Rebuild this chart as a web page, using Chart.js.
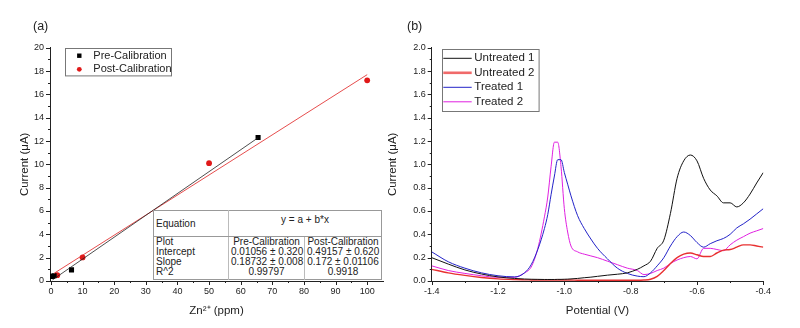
<!DOCTYPE html>
<html>
<head>
<meta charset="utf-8">
<script src="https://cdn.jsdelivr.net/npm/chart.js@4.4.1/dist/chart.umd.min.js"></script>
<style>
body { margin: 0; background: #fff; width: 800px; height: 328px; position: relative; overflow: hidden; font-family: "Liberation Sans", Arial, sans-serif; color: #222; }
canvas { position: absolute; top: 0; }
#chartA { left: 0; }
#chartB { left: 380px; }
.tag { position: absolute; top: 19px; font-size: 12.5px; }
#fit { position: absolute; left: 153px; top: 210px; width: 228px; border-collapse: collapse; font-size: 10px; line-height: 10px; background: #fff; border: 1px solid #999; table-layout: fixed; }
#fit td { padding: 0 2px; white-space: nowrap; text-align: center; }
#fit td:first-child { text-align: left; border-right: 1px solid #bbb; }
#fit td.mid { border-right: 1px solid #bbb; }
#fit tr.eq td { height: 21px; border-bottom: 1px solid #999; }
#fit tr.last td { height: 12px; vertical-align: top; }
</style>
</head>
<body>
<canvas id="chartA" width="400" height="328"></canvas>
<canvas id="chartB" width="420" height="328"></canvas>
<div class="tag" style="left:33px">(a)</div>
<div class="tag" style="left:407px">(b)</div>
<table id="fit">
  <colgroup><col style="width:75px"><col style="width:76px"><col style="width:77px"></colgroup>
  <tr class="eq"><td>Equation</td><td colspan="2" style="vertical-align:top;padding-top:4px">y = a + b*x</td></tr>
  <tr><td>Plot</td><td class="mid">Pre-Calibration</td><td>Post-Calibration</td></tr>
  <tr><td>Intercept</td><td class="mid">0.01056 ± 0.320</td><td>0.49157 ± 0.620</td></tr>
  <tr><td>Slope</td><td class="mid">0.18732 ± 0.008</td><td>0.172 ± 0.01106</td></tr>
  <tr class="last"><td>R^2</td><td class="mid">0.99797</td><td>0.9918</td></tr>
</table>
<script>
// (a) calibration data
const preZn = [0.5, 1, 6.5, 65.5];
const preCurrent = [0.4, 0.45, 0.95, 12.3];
const postZn = [2, 10, 50, 100];
const postCurrent = [0.5, 2.02, 10.1, 17.2];
// fitted lines, end points
const preFitZn = [0.5, 65.5];
const preFitCurrent = [0.1, 12.28];
const postFitZn = [1, 100];
const postFitCurrent = [0.66, 17.69];

// (b) voltammograms
const potential = [-1.40, -1.35, -1.30, -1.25, -1.20, -1.15, -1.12, -1.10, -1.08, -1.06, -1.05, -1.04, -1.03, -1.02, -1.01,
  -1.00, -0.99, -0.98, -0.96, -0.94, -0.92, -0.90, -0.87, -0.84, -0.81, -0.78, -0.76, -0.74, -0.72, -0.70,
  -0.68, -0.66, -0.64, -0.62, -0.60, -0.58, -0.56, -0.54, -0.52, -0.50, -0.48, -0.46, -0.44, -0.42, -0.40];
const untreated1 = [0.20, 0.145, 0.095, 0.06, 0.035, 0.022, 0.017, 0.015, 0.014, 0.013, 0.013, 0.013, 0.013, 0.014, 0.014,
  0.015, 0.016, 0.018, 0.022, 0.028, 0.033, 0.04, 0.05, 0.058, 0.07, 0.10, 0.13, 0.17, 0.28, 0.35,
  0.58, 0.88, 1.03, 1.08, 1.03, 0.88, 0.78, 0.73, 0.67, 0.67, 0.635, 0.67, 0.745, 0.84, 0.93];
const untreated2 = [0.10, 0.07, 0.048, 0.03, 0.018, 0.012, 0.01, 0.009, 0.008, 0.008, 0.008, 0.008, 0.008, 0.008, 0.008,
  0.008, 0.008, 0.008, 0.007, 0.007, 0.007, 0.006, 0.006, 0.006, 0.006, 0.006, 0.008, 0.015, 0.04, 0.09,
  0.15, 0.20, 0.23, 0.24, 0.225, 0.21, 0.21, 0.24, 0.265, 0.27, 0.29, 0.31, 0.31, 0.30, 0.29];
const treated1 = [0.25, 0.165, 0.11, 0.07, 0.045, 0.035, 0.07, 0.14, 0.27, 0.45, 0.57, 0.74, 0.90, 1.04, 1.04,
  0.93, 0.83, 0.73, 0.56, 0.45, 0.36, 0.28, 0.19, 0.11, 0.065, 0.042, 0.037, 0.07, 0.13, 0.20,
  0.30, 0.38, 0.42, 0.39, 0.33, 0.29, 0.32, 0.345, 0.365, 0.40, 0.455, 0.49, 0.53, 0.575, 0.62];
const treated2 = [0.13, 0.09, 0.065, 0.045, 0.032, 0.032, 0.07, 0.12, 0.28, 0.55, 0.72, 0.98, 1.19, 1.19, 0.98,
  0.62, 0.42, 0.30, 0.25, 0.23, 0.215, 0.20, 0.17, 0.14, 0.11, 0.09, 0.055, 0.065, 0.09, 0.11,
  0.15, 0.18, 0.20, 0.21, 0.19, 0.28, 0.28, 0.27, 0.26, 0.31, 0.35, 0.38, 0.41, 0.43, 0.45];

// ticks
const aXMajor = [0, 10, 20, 30, 40, 50, 60, 70, 80, 90, 100];
const aXMinor = [5, 15, 25, 35, 45, 55, 65, 75, 85, 95];
const aYMajor = [0, 2, 4, 6, 8, 10, 12, 14, 16, 18, 20];
const aYMinor = [1, 3, 5, 7, 9, 11, 13, 15, 17, 19];
const bXMajor = [-1.4, -1.2, -1.0, -0.8, -0.6, -0.4];
const bXMinor = [-1.3, -1.1, -0.9, -0.7, -0.5];
const bYMajor = [0, 0.2, 0.4, 0.6, 0.8, 1.0, 1.2, 1.4, 1.6, 1.8, 2.0];
const bYMinor = [0.1, 0.3, 0.5, 0.7, 0.9, 1.1, 1.3, 1.5, 1.7, 1.9];

const FONT = '"Liberation Sans", Arial, sans-serif';
Chart.defaults.font.family = FONT;
Chart.defaults.color = '#222';

const pts = (xs, ys) => xs.map((x, i) => ({ x: x, y: ys[i] }));

// minor/major tick marks, drawn outward
const tickMarks = {
  id: 'tickMarks',
  afterDraw(chart, args, o) {
    const ctx = chart.ctx;
    ctx.save();
    ctx.strokeStyle = '#222';
    ctx.lineWidth = 1;
    ctx.beginPath();
    ['x', 'y'].forEach(id => {
      const s = chart.scales[id];
      const mark = (v, len) => {
        const p = Math.round(s.getPixelForValue(v)) + 0.5;
        if (id === 'x') { ctx.moveTo(p, s.top); ctx.lineTo(p, s.top + len); }
        else { ctx.moveTo(s.right, p); ctx.lineTo(s.right - len, p); }
      };
      o[id].major.forEach(v => mark(v, 4));
      o[id].minor.forEach(v => mark(v, 2));
    });
    ctx.stroke();
    ctx.restore();
  }
};

// framed legend placed inside the plot
const boxLegend = {
  id: 'boxLegend',
  afterDraw(chart, args, o) {
    const ctx = chart.ctx;
    ctx.save();
    ctx.fillStyle = '#fff';
    ctx.fillRect(o.x, o.y, o.w, o.h);
    ctx.strokeStyle = '#777';
    ctx.lineWidth = 1;
    ctx.strokeRect(Math.round(o.x) + 0.5, Math.round(o.y) + 0.5, o.w, o.h);
    ctx.font = o.font;
    ctx.textBaseline = 'middle';
    o.items.forEach((idx, k) => {
      const ds = chart.data.datasets[idx];
      const cy = o.y + o.first + k * o.row;
      if (o.lines) {
        ctx.strokeStyle = ds.legendColor || ds.borderColor;
        ctx.lineWidth = ds.legendWidth || 1;
        ctx.beginPath();
        ctx.moveTo(o.x + o.markX, cy);
        ctx.lineTo(o.x + o.markX + o.markW, cy);
        ctx.stroke();
      } else {
        ctx.fillStyle = ds.backgroundColor;
        ctx.beginPath();
        if (ds.pointStyle === 'rect') ctx.rect(o.x + o.markX - 2.2, cy - 2.2, 4.4, 4.4);
        else ctx.arc(o.x + o.markX, cy, 2.4, 0, Math.PI * 2);
        ctx.fill();
      }
      ctx.fillStyle = '#222';
      ctx.fillText(ds.label, o.x + o.textX, cy);
    });
    ctx.restore();
  }
};

function axis(min, max, majors, fmt, size, pad, extra) {
  return Object.assign({
    type: 'linear', min: min, max: max,
    grid: { display: false, drawTicks: false },
    border: { display: true, color: '#222', width: 1 },
    ticks: { font: { size: 9 }, padding: pad, color: '#222', callback: fmt },
    afterBuildTicks: s => { s.ticks = majors.map(v => ({ value: v })); },
    afterFit: s => { if (s.isHorizontal()) s.height = size; else s.width = size; }
  }, extra);
}

const titleFont = { size: 11.5 };

new Chart(document.getElementById('chartA'), {
  type: 'scatter',
  data: {
    datasets: [
      { label: 'Pre fit', data: pts(preFitZn, preFitCurrent), showLine: true, borderColor: '#222', borderWidth: 0.8, pointRadius: 0 },
      { label: 'Post fit', data: pts(postFitZn, postFitCurrent), showLine: true, borderColor: '#e02020', borderWidth: 0.8, pointRadius: 0 },
      { label: 'Pre-Calibration', data: pts(preZn, preCurrent), pointStyle: 'rect', pointRadius: 3.6, backgroundColor: '#000', borderColor: '#000', borderWidth: 0 },
      { label: 'Post-Calibration', data: pts(postZn, postCurrent), pointStyle: 'circle', pointRadius: 2.9, backgroundColor: '#e01818', borderColor: '#e01818', borderWidth: 0 }
    ]
  },
  options: {
    responsive: false, animation: false, devicePixelRatio: 1,
    layout: { padding: { left: 14, right: 17, top: 47.7, bottom: 7 } },
    plugins: {
      legend: { display: false }, tooltip: { enabled: false },
      tickMarks: { x: { major: aXMajor, minor: aXMinor }, y: { major: aYMajor, minor: aYMinor } },
      boxLegend: { x: 65, y: 48.3, w: 106, h: 27.4, first: 7.4, row: 13.6, markX: 14.3, textX: 28.3, font: '11px ' + FONT, items: [2, 3] }
    },
    scales: {
      x: axis(-0.3, 105, aXMajor, v => String(v), 40, 5, { title: { display: true, text: 'Zn²⁺ (ppm)', font: titleFont, padding: { top: 2, bottom: 3 } } }),
      y: axis(0, 20, aYMajor, v => String(v), 36, 6, { title: { display: true, text: 'Current (μA)', font: titleFont, padding: { top: 4, bottom: 2 } } })
    }
  },
  plugins: [tickMarks, boxLegend]
});

new Chart(document.getElementById('chartB'), {
  type: 'line',
  data: {
    datasets: [
      { label: 'Untreated 1', data: pts(potential, untreated1), borderColor: '#111', borderWidth: 1 },
      { label: 'Untreated 2', data: pts(potential, untreated2), borderColor: '#e83030', borderWidth: 1.4, legendColor: '#f06a6a', legendWidth: 2.6 },
      { label: 'Treated 1', data: pts(potential, treated1), borderColor: '#2323c8', borderWidth: 1 },
      { label: 'Treated 2', data: pts(potential, treated2), borderColor: '#e020e0', borderWidth: 1 }
    ]
  },
  options: {
    responsive: false, animation: false, devicePixelRatio: 1,
    layout: { padding: { left: 2, right: 36.7, top: 47.7, bottom: 7 } },
    elements: { point: { radius: 0 }, line: { cubicInterpolationMode: 'monotone' } },
    plugins: {
      legend: { display: false }, tooltip: { enabled: false },
      tickMarks: { x: { major: bXMajor, minor: bXMinor }, y: { major: bYMajor, minor: bYMinor } },
      boxLegend: { x: 61.7, y: 49, w: 96.6, h: 62, first: 9.3, row: 14.5, markX: 1.6, markW: 28.4, textX: 32.6, font: '11.5px ' + FONT, lines: true, items: [0, 1, 2, 3] }
    },
    scales: {
      x: axis(-1.4, -0.4, bXMajor, v => v.toFixed(1), 40, 5, { title: { display: true, text: 'Potential (V)', font: titleFont, padding: { top: 2, bottom: 3 } } }),
      y: axis(0, 2.0, bYMajor, v => v.toFixed(1), 49.7, 6, { title: { display: true, text: 'Current (μA)', font: titleFont, padding: { top: 4, bottom: 2 } } })
    }
  },
  plugins: [tickMarks, boxLegend]
});
</script>
</body>
</html>
